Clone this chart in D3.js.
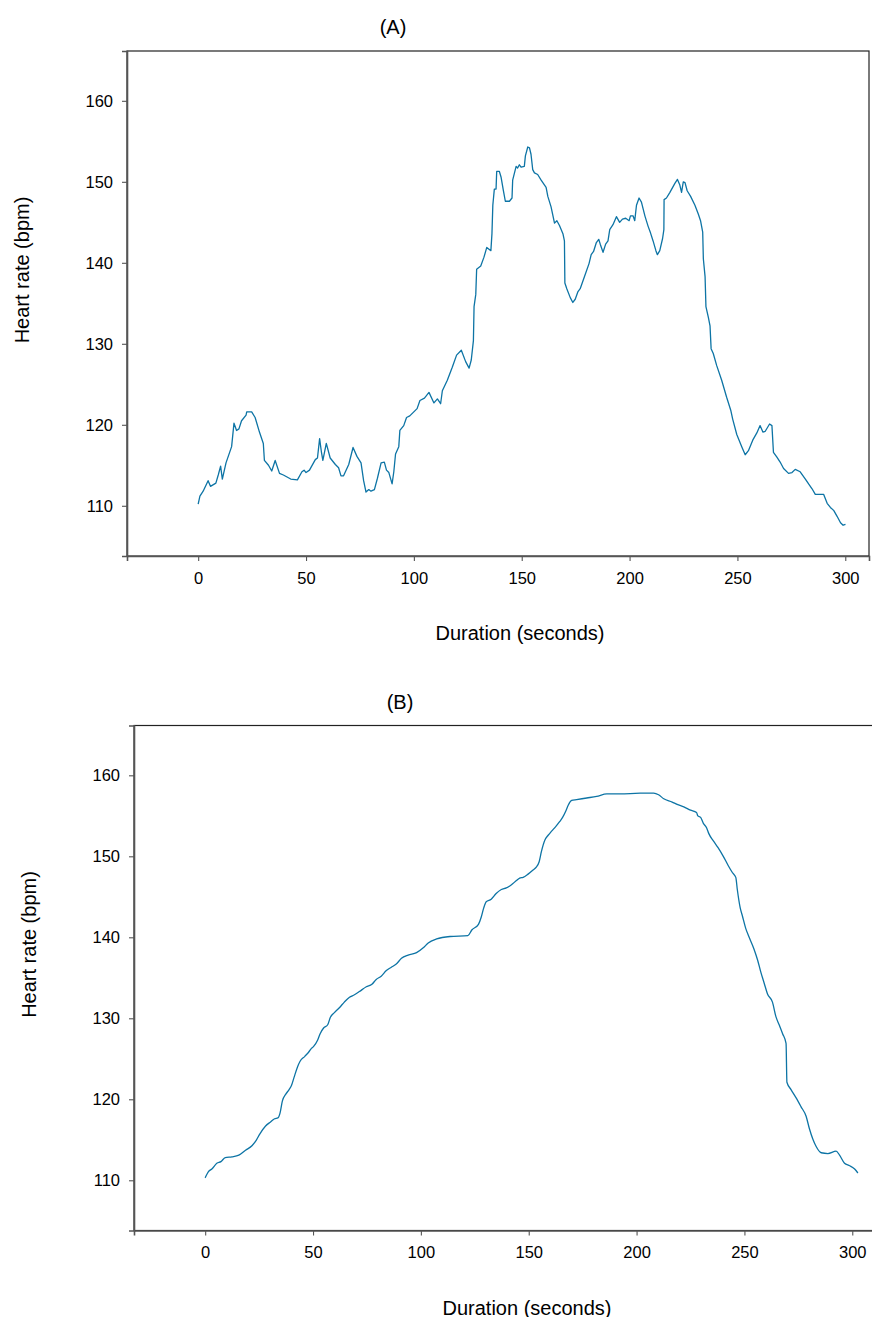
<!DOCTYPE html>
<html>
<head>
<meta charset="utf-8">
<script src="https://cdn.jsdelivr.net/npm/d3@7"></script>
<style>
    body { margin: 0; background: white; }
    svg { display: block; overflow: hidden; }
    text { font-family: "Liberation Sans", Arial, sans-serif; fill: #000; }
</style>
</head>
<body>
<div id="chart"></div>
<script>
// (A) raw heart rate trace
var TIME_A = [0, 0.8, 2.3, 4.6, 5.7, 8.2, 9.3, 10.4, 11.2, 12.9, 15.5, 16.6, 17.8, 18.9, 20.1, 22.2, 22.5, 24.8, 26.4, 28.4,
    30.2, 30.7, 32.6, 34.1, 35.7, 37.7, 39.5, 42.9, 46.0, 48.1, 49.1, 50.0, 51.6, 54.3, 55.3, 56.3, 57.1, 57.8, 59.4, 61.2,
    63.6, 65.1, 66.2, 67.4, 69.8, 71.8, 73.6, 75.5, 76.7, 77.8, 79.1, 80.1, 81.7, 83.1, 84.8, 86.3, 87.3, 88.4, 89.9, 90.7,
    91.5, 93.0, 93.5, 95.3, 96.6, 98.1, 101.5, 102.8, 104.9, 107.0, 109.3, 110.9, 112.4, 113.2, 115.5, 117.8, 119.8, 122.0, 124.0, 125.6,
    126.6, 127.6, 127.9, 128.7, 129.1, 131.0, 132.5, 133.8, 135.7, 136.2, 136.6, 137.3, 138.1, 138.4, 139.6, 140.4, 141.5, 142.4, 144.3, 145.5,
    145.8, 147.4, 148.1, 148.9, 149.7, 151.2, 151.7, 152.8, 153.6, 154.3, 155.1, 155.9, 157.4, 159.0, 161.3, 162.1, 163.6, 165.2, 166.3, 167.5,
    169.1, 169.8, 170.0, 170.9, 172.5, 173.7, 174.8, 176.0, 177.1, 179.1, 181.2, 182.2, 183.3, 184.6, 185.7, 186.4, 187.7, 188.9, 190.0, 190.8,
    192.3, 193.9, 195.4, 196.7, 198.2, 199.8, 200.4, 201.6, 202.4, 203.2, 204.4, 205.5, 207.1, 208.6, 209.7, 210.9, 212.2, 212.9, 214.0, 215.3,
    215.9, 216.0, 217.1, 218.7, 221.0, 222.2, 223.3, 224.1, 224.9, 225.7, 226.7, 228.3, 230.3, 231.9, 232.9, 233.9, 234.2, 235.0, 235.4, 236.5,
    237.3, 237.8, 238.8, 240.4, 242.7, 245.0, 246.9, 247.8, 249.7, 252.0, 253.6, 255.1, 257.1, 259.0, 260.5, 261.8, 262.9, 264.9, 266.0, 266.7,
    268.3, 269.8, 271.4, 273.7, 275.3, 276.8, 279.1, 281.5, 283.0, 284.6, 286.1, 287.7, 290.0, 291.6, 293.1, 294.7, 296.2, 297.8, 299.0, 300.1];
var HR_A = [110.2, 111.2, 111.8, 113.1, 112.4, 112.8, 113.8, 114.9, 113.3, 115.3, 117.3, 120.2, 119.3, 119.5, 120.5, 121.2, 121.6, 121.6, 120.9, 119.1,
    117.7, 115.6, 115.0, 114.3, 115.6, 114.0, 113.8, 113.3, 113.2, 114.2, 114.4, 114.1, 114.4, 115.7, 115.9, 118.3, 116.7, 115.6, 117.7, 115.9,
    115.1, 114.7, 113.7, 113.7, 115.1, 117.2, 116.1, 115.3, 113.1, 111.7, 112.0, 111.8, 112.0, 113.4, 115.3, 115.4, 114.4, 114.1, 112.7, 114.2,
    116.4, 117.3, 119.3, 119.9, 120.9, 121.1, 122.0, 123.0, 123.3, 124.0, 122.7, 123.2, 122.6, 124.2, 125.5, 127.1, 128.6, 129.2, 127.8, 127.0,
    128.0, 130.4, 134.6, 136.1, 139.2, 139.6, 140.7, 141.9, 141.5, 143.6, 147.1, 149.1, 149.1, 151.3, 151.3, 150.6, 148.9, 147.6, 147.6, 148.0,
    150.2, 151.9, 151.7, 152.1, 151.8, 151.9, 153.2, 154.3, 154.2, 153.4, 151.5, 151.1, 150.9, 150.2, 149.3, 148.2, 146.9, 144.9, 145.2, 144.6,
    143.6, 142.7, 137.5, 136.8, 135.7, 135.1, 135.5, 136.4, 136.8, 138.3, 139.9, 141.0, 141.4, 142.5, 142.9, 142.3, 141.3, 142.3, 142.7, 144.1,
    144.7, 145.7, 145.0, 145.4, 145.5, 145.2, 145.8, 145.8, 145.2, 147.1, 148.0, 147.5, 145.8, 144.5, 143.7, 142.7, 141.5, 141.0, 141.5, 143.0,
    144.1, 147.8, 148.0, 148.7, 149.8, 150.3, 149.6, 148.7, 150.0, 149.9, 148.9, 148.2, 147.1, 146.0, 145.2, 143.8, 140.5, 138.3, 134.6, 133.3,
    132.2, 129.4, 128.8, 127.3, 125.5, 123.4, 121.8, 120.7, 118.8, 117.3, 116.3, 116.8, 118.1, 119.0, 119.9, 119.1, 119.2, 120.1, 119.9, 116.6,
    116.0, 115.4, 114.6, 114.0, 114.1, 114.5, 114.2, 113.3, 112.7, 112.1, 111.4, 111.4, 111.4, 110.3, 109.8, 109.4, 108.7, 107.9, 107.6, 107.7];

// (B) smoothed heart rate trace
var TIME_B = [0, 1.6, 3.1, 5.4, 7.3, 9.3, 12.4, 15.6, 18.7, 21.8, 23.8, 25.3, 28.0, 30.3, 32.2, 33.7, 34.7, 35.8, 37.3, 38.9,
    40.0, 41.2, 42.8, 44.0, 46.2, 48.2, 49.0, 50.2, 52.1, 53.3, 54.9, 56.8, 58.0, 59.9, 62.2, 64.5, 66.9, 69.2, 71.5, 74.7,
    77.3, 79.3, 81.6, 84.0, 86.3, 88.6, 91.0, 94.1, 98.0, 101.1, 103.4, 107.3, 113.5, 121.8, 123.6, 126.7, 128.0, 129.1, 130.3, 132.6,
    134.9, 137.3, 139.6, 142.0, 144.3, 145.8, 147.4, 149.7, 152.0, 153.6, 154.8, 155.9, 157.5, 159.0, 160.6, 162.6, 164.4, 165.7, 167.2, 168.3,
    169.9, 172.2, 176.9, 181.5, 186.2, 192.4, 201.7, 207.9, 210.2, 212.6, 216.5, 218.8, 221.9, 225.0, 227.8, 228.4, 229.7, 230.9, 232.5, 233.5,
    235.6, 237.7, 240.2, 242.4, 244.4, 246.0, 246.7, 248.0, 249.1, 250.6, 252.2, 254.5, 256.1, 257.6, 259.2, 260.7, 263.0, 264.6, 266.1, 267.7,
    269.3, 269.7, 271.6, 273.9, 276.2, 278.6, 280.1, 281.7, 283.2, 285.6, 288.7, 292.5, 294.1, 296.4, 298.8, 301.1, 302.6];
var HR_B = [110.3, 111.1, 111.4, 112.1, 112.3, 112.8, 112.9, 113.1, 113.7, 114.3, 115.0, 115.7, 116.7, 117.2, 117.6, 117.7, 118.3, 119.8, 120.6, 121.2,
    121.7, 122.7, 124.0, 124.7, 125.3, 125.9, 126.2, 126.5, 127.3, 128.1, 128.8, 129.2, 130.1, 130.7, 131.3, 132.0, 132.6, 132.9, 133.3, 133.9,
    134.2, 134.8, 135.2, 135.9, 136.3, 136.7, 137.4, 137.8, 138.1, 138.7, 139.3, 139.8, 140.1, 140.2, 140.9, 141.6, 142.5, 143.6, 144.4, 144.7,
    145.4, 145.9, 146.1, 146.5, 147.0, 147.3, 147.4, 147.8, 148.3, 148.7, 149.3, 150.6, 152.0, 152.6, 153.1, 153.7, 154.3, 154.8, 155.6, 156.3,
    156.9, 157.0, 157.2, 157.4, 157.7, 157.7, 157.8, 157.8, 157.6, 157.1, 156.7, 156.4, 156.1, 155.7, 155.4, 155.0, 154.8, 154.1, 153.5, 152.8,
    151.9, 151.1, 150.0, 148.9, 148.0, 147.4, 145.9, 143.7, 142.6, 141.1, 140.0, 138.5, 137.2, 135.7, 134.3, 133.0, 132.0, 130.2, 129.2, 128.1,
    126.9, 122.1, 121.2, 120.2, 119.1, 117.9, 116.4, 115.1, 114.2, 113.4, 113.3, 113.6, 113.1, 112.1, 111.8, 111.4, 110.9];

var X_TICKS = [0, 50, 100, 150, 200, 250, 300];
var Y_TICKS = [110, 120, 130, 140, 150, 160];
var X_DOMAIN = [-33, 311];
var Y_DOMAIN = [103.8, 166.15];

var LINE_COLOR = "#0d74a5";
var PLOT_W = 742;
var PLOT_H = 505;

const zipSeries = (times, values) => {
    return times.map((t, i) => {
        return {t: t, v: values[i]};
    });
}

const renderPanel = (svg, opts) => {
    let g = svg.append("g")
        .attr("transform", "translate(" + opts.left + "," + opts.top + ")");

    let xScale = d3.scaleLinear().domain(X_DOMAIN).range([0, PLOT_W]);
    let yScale = d3.scaleLinear().domain(Y_DOMAIN).range([PLOT_H, 0]);

    // frame top / right
    g.append("rect")
        .attr("x", 0)
        .attr("y", 0)
        .attr("width", PLOT_W)
        .attr("height", PLOT_H)
        .attr("fill", "none")
        .attr("stroke", "#222")
        .attr("stroke-width", 1.2);

    // x-axis
    let xAxis = g.append("g")
        .attr("transform", "translate(0," + PLOT_H + ")")
        .call(d3.axisBottom(xScale)
            .tickValues(X_TICKS)
            .tickSizeOuter(0)
            .tickSize(5)
            .tickPadding(11)
        );
    xAxis.selectAll(".tick text")
        .attr("font-size", "16.5px")
        .attr("font-family", "Liberation Sans, Arial, sans-serif");

    // y-axis
    let yAxis = g.append("g")
        .call(d3.axisLeft(yScale)
            .tickValues(Y_TICKS)
            .tickSizeOuter(0)
            .tickSize(5)
            .tickPadding(9)
        );
    yAxis.selectAll(".tick text")
        .attr("font-size", "16.5px")
        .attr("font-family", "Liberation Sans, Arial, sans-serif");

    [xAxis, yAxis].forEach((ax) => {
        ax.select(".domain").attr("stroke", "#555").attr("stroke-width", 1.6);
        ax.selectAll(".tick line").attr("stroke", "#555").attr("stroke-width", 1.1);
    });

    // the trace
    g.append("path")
        .datum(zipSeries(opts.times, opts.values))
        .attr("fill", "none")
        .attr("stroke", LINE_COLOR)
        .attr("stroke-width", 1.3)
        .attr("stroke-linejoin", "round")
        .attr("d", d3.line()
            .curve(opts.curve)
            .x((d) => { return xScale(d.t) })
            .y((d) => { return yScale(d.v) })
        );

    // panel title
    g.append("text")
        .attr("text-anchor", "middle")
        .attr("x", 266)
        .attr("y", -17)
        .attr("font-size", "20px")
        .text(opts.title);

    // axis titles
    g.append("text")
        .attr("text-anchor", "middle")
        .attr("x", 393)
        .attr("y", PLOT_H + 84)
        .attr("font-size", "20px")
        .text("Duration (seconds)");
    g.append("text")
        .attr("text-anchor", "middle")
        .attr("transform", "translate(-98," + 219 + ") rotate(-90)")
        .attr("font-size", "20px")
        .text("Heart rate (bpm)");
}

const renderChart = () => {
    let svg = d3.select("#chart")
        .append("svg")
            .attr("width", 872)
            .attr("height", 1317)
            .style("background-color", "white");

    renderPanel(svg, {left: 127, top: 51, title: "(A)", times: TIME_A, values: HR_A, curve: d3.curveLinear});
    renderPanel(svg, {left: 134, top: 725.5, title: "(B)", times: TIME_B, values: HR_B, curve: d3.curveMonotoneX});
}

renderChart();
</script>
</body>
</html>
